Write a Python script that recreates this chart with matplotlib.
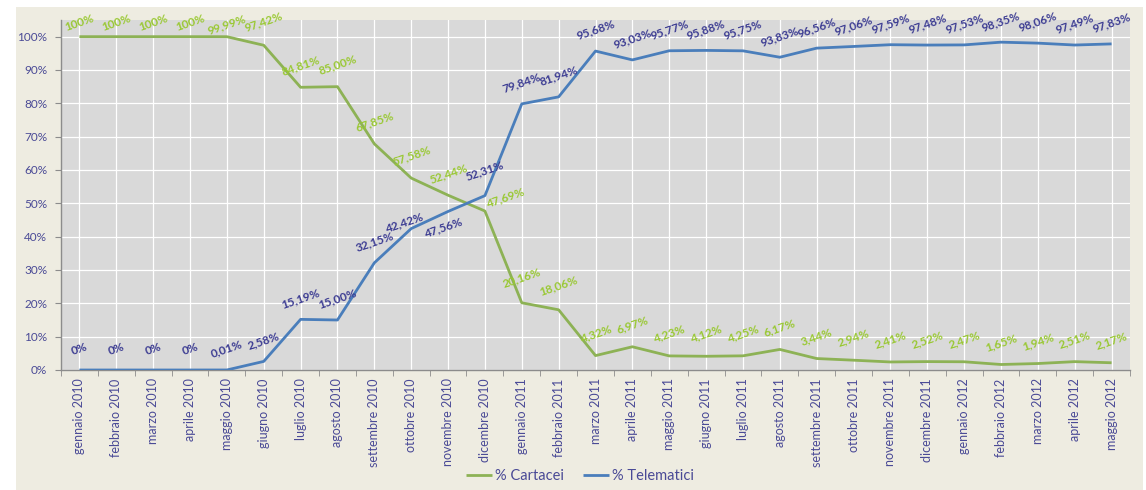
import matplotlib
matplotlib.use("Agg")
import matplotlib.pyplot as plt
from matplotlib.patches import Rectangle
import numpy as np

# --- data ---
mesi = ["gennaio 2010", "febbraio 2010", "marzo 2010", "aprile 2010", "maggio 2010",
        "giugno 2010", "luglio 2010", "agosto 2010", "settembre 2010", "ottobre 2010",
        "novembre 2010", "dicembre 2010", "gennaio 2011", "febbraio 2011", "marzo 2011",
        "aprile 2011", "maggio 2011", "giugno 2011", "luglio 2011", "agosto 2011",
        "settembre 2011", "ottobre 2011", "novembre 2011", "dicembre 2011",
        "gennaio 2012", "febbraio 2012", "marzo 2012", "aprile 2012", "maggio 2012"]

cartacei = [100, 100, 100, 100, 99.99, 97.42, 84.81, 85.00, 67.85, 57.58,
            52.44, 47.69, 20.16, 18.06, 4.32, 6.97, 4.23, 4.12, 4.25, 6.17,
            3.44, 2.94, 2.41, 2.52, 2.47, 1.65, 1.94, 2.51, 2.17]

telematici = [0, 0, 0, 0, 0.01, 2.58, 15.19, 15.00, 32.15, 42.42,
              47.56, 52.31, 79.84, 81.94, 95.68, 93.03, 95.77, 95.88, 95.75, 93.83,
              96.56, 97.06, 97.59, 97.48, 97.53, 98.35, 98.06, 97.49, 97.83]

W, H = 1146, 490
FONT = ["Lato", "DejaVu Sans"]
plt.rcParams["font.family"] = FONT

GREEN_LINE = "#8db255"
BLUE_LINE = "#4a7ebb"
GREEN_TXT = "#99c832"
BLUE_TXT = "#3b3b92"
AXIS_TXT = "#4a4a96"


def fmt(v):
    # excel shows whole 0/100 without decimals, everything else with 2
    if v in (0, 100):
        return "%d%%" % v
    return ("%.2f%%" % v).replace(".", ",")


fig = plt.figure(figsize=(W / 100, H / 100), dpi=100)
fig.patch.set_facecolor("white")
# beige chart background (excel style), leaves a thin white edge top/left
bg = Rectangle((16 / W, 0), (1143 - 16) / W, 1 - 7 / H,
               transform=fig.transFigure, facecolor="#eeece1",
               edgecolor="none", zorder=-10)
fig.add_artist(bg)

ax = fig.add_axes([61 / W, 1 - 370 / H, (1130 - 61) / W, 350 / H])
ax.set_zorder(1)
ax.set_facecolor("#d9d9d9")

x = np.arange(len(mesi))
l1, = ax.plot(x, cartacei, color=GREEN_LINE, lw=2.0, label="% Cartacei",
              solid_capstyle="butt", zorder=3)
l2, = ax.plot(x, telematici, color=BLUE_LINE, lw=2.0, label="% Telematici",
              solid_capstyle="butt", zorder=3)

ax.set_xlim(-0.5, len(mesi) - 0.5)
ax.set_ylim(0, 105)

ax.set_yticks(range(0, 101, 10))
ax.set_yticklabels(["%d%%" % v for v in range(0, 101, 10)])
ax.set_xticks(x)
ax.set_xticklabels(mesi, rotation=90)
ax.set_xticks(np.arange(-0.5, len(mesi), 1), minor=True)

ax.grid(True, which="major", color="white", lw=0.9, zorder=1)
ax.set_axisbelow(True)
ax.tick_params(axis="x", which="major", length=0, pad=6, labelsize=9,
               labelcolor=AXIS_TXT)
ax.tick_params(axis="x", which="minor", length=4, color="#8c8c8c", direction="out")
ax.tick_params(axis="y", length=4, color="#8c8c8c", labelsize=8.5,
               labelcolor=AXIS_TXT, pad=6)
for s in ("top", "right"):
    ax.spines[s].set_visible(False)
for s in ("left", "bottom"):
    ax.spines[s].set_color("#8c8c8c")
    ax.spines[s].set_linewidth(1.0)

# data labels: offsets in pixels (dx, dy up), default above the point
def px(d):
    return d * 0.72

green_off = {0: (0, 14), 1: (0, 14), 2: (0, 14), 3: (0, 14), 4: (0, 12),
             5: (0, 24), 11: (20, 13), 12: (0, 25), 13: (0, 24)}
blue_off = {9: (-7, 6), 10: (-5, -16), 11: (0, 25)}

for i, v in enumerate(cartacei):
    dx, dy = green_off.get(i, (0, 22))
    ax.annotate(fmt(v), (x[i], v), xytext=(px(dx), px(dy)),
                textcoords="offset points", ha="center", va="center",
                rotation=19, fontsize=8.5, fontweight="bold", color=GREEN_TXT,
                annotation_clip=False, zorder=4)

for i, v in enumerate(telematici):
    dx, dy = blue_off.get(i, (0, 21))
    ax.annotate(fmt(v), (x[i], v), xytext=(px(dx), px(dy)),
                textcoords="offset points", ha="center", va="center",
                rotation=19, fontsize=8.5, fontweight="bold", color=BLUE_TXT,
                annotation_clip=False, zorder=4)

leg = fig.legend(handles=[l1, l2], loc="center", bbox_to_anchor=(580 / W, 1 - 476 / H),
                 ncol=2, frameon=False, fontsize=10.5, handlelength=1.8,
                 handletextpad=0.2, columnspacing=1.3)
for t in leg.get_texts():
    t.set_color(AXIS_TXT)

fig.savefig("out.png", dpi=100, facecolor=fig.get_facecolor())
